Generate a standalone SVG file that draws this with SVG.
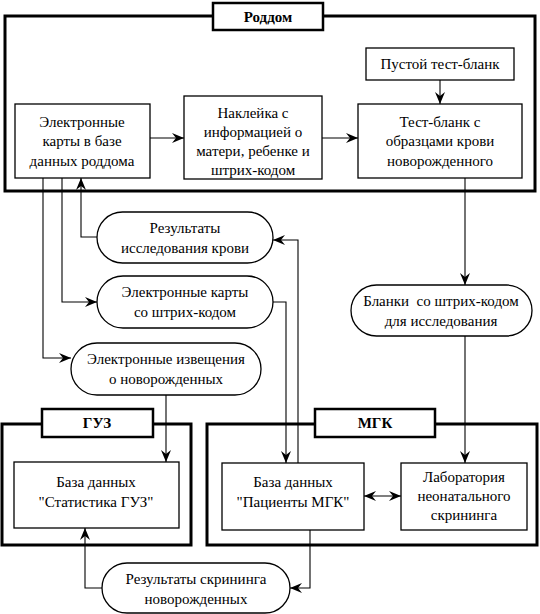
<svg xmlns="http://www.w3.org/2000/svg" width="540" height="614" viewBox="0 0 540 614">
<defs>
<marker id="ah" viewBox="0 0 12 10" refX="12" refY="5" markerWidth="12" markerHeight="10" markerUnits="userSpaceOnUse" orient="auto-start-reverse">
<path d="M0,0 L12,5 L0,10 L4,5 z" fill="#000"/>
</marker>
</defs>
<rect width="540" height="614" fill="#fff"/>

<g id="groups" fill="#fff" stroke="#000">
<g id="roddom">
<rect x="5" y="16" width="530" height="175" fill="none" stroke-width="3"/>
<rect x="213" y="3" width="110" height="27" stroke-width="2.5"/>
<text x="268" y="22" font-family="Liberation Serif" font-size="15" font-weight="bold" text-anchor="middle" fill="#000" stroke="none">Роддом</text>
</g>
<g id="guz">
<rect x="2" y="424" width="189" height="121" fill="none" stroke-width="3"/>
<rect x="42" y="409" width="111" height="28" stroke-width="2.5"/>
<text x="97" y="428" font-family="Liberation Serif" font-size="15" font-weight="bold" text-anchor="middle" fill="#000" stroke="none">ГУЗ</text>
</g>
<g id="mgk">
<rect x="207" y="424" width="330" height="121" fill="none" stroke-width="3"/>
<rect x="315" y="409" width="120" height="28" stroke-width="2.5"/>
<text x="375" y="428" font-family="Liberation Serif" font-size="15" font-weight="bold" text-anchor="middle" fill="#000" stroke="none">МГК</text>
</g>
</g>

<g id="nodes" fill="#fff" stroke="#000" stroke-width="1.3">
<g id="empty-blank">
<rect x="366" y="48" width="148" height="32"/>
<text x="440" y="69" font-family="Liberation Serif" font-size="15" text-anchor="middle" fill="#000" stroke="none">Пустой тест-бланк</text>
</g>
<g id="e-cards">
<rect x="15" y="104" width="135" height="74"/>
<text x="82" y="127" font-family="Liberation Serif" font-size="15" text-anchor="middle" fill="#000" stroke="none">Электронные</text>
<text x="82" y="146" font-family="Liberation Serif" font-size="15" text-anchor="middle" fill="#000" stroke="none">карты в базе</text>
<text x="82" y="166" font-family="Liberation Serif" font-size="15" text-anchor="middle" fill="#000" stroke="none">данных роддома</text>
</g>
<g id="sticker">
<rect x="184" y="96" width="138" height="83"/>
<text x="253" y="118" font-family="Liberation Serif" font-size="15" text-anchor="middle" fill="#000" stroke="none">Наклейка с</text>
<text x="253" y="137" font-family="Liberation Serif" font-size="15" text-anchor="middle" fill="#000" stroke="none">информацией о</text>
<text x="253" y="156" font-family="Liberation Serif" font-size="15" text-anchor="middle" fill="#000" stroke="none">матери, ребенке и</text>
<text x="253" y="175" font-family="Liberation Serif" font-size="15" text-anchor="middle" fill="#000" stroke="none">штрих-кодом</text>
</g>
<g id="test-blank">
<rect x="358" y="104" width="164" height="74"/>
<text x="440" y="127" font-family="Liberation Serif" font-size="15" text-anchor="middle" fill="#000" stroke="none">Тест-бланк с</text>
<text x="440" y="146" font-family="Liberation Serif" font-size="15" text-anchor="middle" fill="#000" stroke="none">образцами крови</text>
<text x="440" y="166" font-family="Liberation Serif" font-size="15" text-anchor="middle" fill="#000" stroke="none">новорожденного</text>
</g>
<g id="blood-results">
<rect x="97" y="212" width="176" height="51" rx="25.5"/>
<text x="185" y="233" font-family="Liberation Serif" font-size="15" text-anchor="middle" fill="#000" stroke="none">Результаты</text>
<text x="185" y="253" font-family="Liberation Serif" font-size="15" text-anchor="middle" fill="#000" stroke="none">исследования крови</text>
</g>
<g id="barcode-cards">
<rect x="97" y="276" width="176" height="52" rx="26"/>
<text x="185" y="297" font-family="Liberation Serif" font-size="15" text-anchor="middle" fill="#000" stroke="none">Электронные карты</text>
<text x="185" y="317" font-family="Liberation Serif" font-size="15" text-anchor="middle" fill="#000" stroke="none">со штрих-кодом</text>
</g>
<g id="notices">
<rect x="71" y="343" width="190" height="52" rx="26"/>
<text x="166" y="364" font-family="Liberation Serif" font-size="15" text-anchor="middle" fill="#000" stroke="none">Электронные извещения</text>
<text x="166" y="384" font-family="Liberation Serif" font-size="15" text-anchor="middle" fill="#000" stroke="none">о новорожденных</text>
</g>
<g id="blanks">
<rect x="351" y="285" width="181" height="51" rx="25.5"/>
<text x="441" y="306" font-family="Liberation Serif" font-size="15" text-anchor="middle" fill="#000" stroke="none" xml:space="preserve">Бланки  со штрих-кодом</text>
<text x="441" y="326" font-family="Liberation Serif" font-size="15" text-anchor="middle" fill="#000" stroke="none">для исследования</text>
</g>
<g id="stat-db">
<rect x="14" y="462" width="165" height="66"/>
<text x="96" y="487" font-family="Liberation Serif" font-size="15" text-anchor="middle" fill="#000" stroke="none">База данных</text>
<text x="96" y="507" font-family="Liberation Serif" font-size="15" text-anchor="middle" fill="#000" stroke="none">"Статистика ГУЗ"</text>
</g>
<g id="patients-db">
<rect x="222" y="463" width="142" height="67"/>
<text x="293" y="487" font-family="Liberation Serif" font-size="15" text-anchor="middle" fill="#000" stroke="none">База данных</text>
<text x="293" y="507" font-family="Liberation Serif" font-size="15" text-anchor="middle" fill="#000" stroke="none">"Пациенты МГК"</text>
</g>
<g id="lab">
<rect x="401" y="463" width="126" height="67"/>
<text x="464" y="482" font-family="Liberation Serif" font-size="15" text-anchor="middle" fill="#000" stroke="none">Лаборатория</text>
<text x="464" y="501" font-family="Liberation Serif" font-size="15" text-anchor="middle" fill="#000" stroke="none">неонатального</text>
<text x="464" y="520" font-family="Liberation Serif" font-size="15" text-anchor="middle" fill="#000" stroke="none">скрининга</text>
</g>
<g id="screening-results">
<rect x="102" y="563" width="188" height="50" rx="25"/>
<text x="196" y="584" font-family="Liberation Serif" font-size="15" text-anchor="middle" fill="#000" stroke="none">Результаты скрининга</text>
<text x="196" y="604" font-family="Liberation Serif" font-size="15" text-anchor="middle" fill="#000" stroke="none">новорожденных</text>
</g>
</g>

<g id="connectors" fill="none" stroke="#000" stroke-width="1.1" marker-end="url(#ah)">
<path d="M440,80 V104"/>
<path d="M150,138 H184"/>
<path d="M322,138 H358"/>
<path d="M43,178 V358 H71"/>
<path d="M62,178 V302 H97"/>
<path d="M97,237 H81 V178"/>
<path d="M298,463 V240 H273"/>
<path d="M273,302 H286 V463"/>
<path d="M166,395 V462"/>
<path d="M465,178 V285"/>
<path d="M465,336 V463"/>
<path marker-start="url(#ah)" d="M364,496 H401"/>
<path d="M310,530 V588 H290"/>
<path d="M102,588 H85 V528"/>
</g>
</svg>
